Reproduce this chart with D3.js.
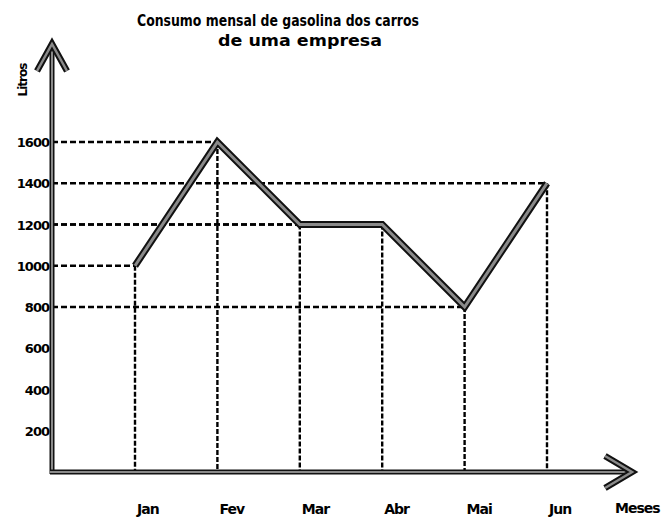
<!DOCTYPE html>
<html>
<head>
<meta charset="utf-8">
<script src="https://cdn.jsdelivr.net/npm/d3@7"></script>
<style>
  body { margin: 0; background: #fff; }
  text { font-family: "DejaVu Sans", sans-serif; font-weight: bold; fill: #000; }
</style>
</head>
<body>
<div id="chart"></div>
<script>
// chart data
const MONTHS = ["Jan", "Fev", "Mar", "Abr", "Mai", "Jun"];
const LITROS = [1000, 1600, 1200, 1200, 800, 1400];
const Y_TICKS = [200, 400, 600, 800, 1000, 1200, 1400, 1600];
const TITLE_LINES = ["Consumo  mensal de gasolina dos carros", "de uma empresa"];

const WIDTH = 665;
const HEIGHT = 521;
const AXIS_X = 52;       // where the vertical axis sits
const AXIS_TOP = 44;     // tip of the vertical arrow
const AXIS_RIGHT = 632;  // tip of the horizontal arrow

let data = MONTHS.map((m, i) => ({ month: m, value: LITROS[i] }));

let xScale = d3.scalePoint()
               .domain(MONTHS)
               .range([135, 547]);
let yScale = d3.scaleLinear()
               .domain([0, 1600])
               .range([472, 142]);

let svg = d3.select("#chart")
            .append("svg")
            .attr("width", WIDTH)
            .attr("height", HEIGHT);

// title
svg.selectAll(".title")
   .data(TITLE_LINES)
   .enter()
   .append("text")
   .attr("class", "title")
   .attr("x", (d, i) => i === 0 ? 137 : 218)
   .attr("y", (d, i) => i === 0 ? 26 : 46)
   .attr("textLength", (d, i) => i === 0 ? 282 : 164)
   .attr("lengthAdjust", "spacingAndGlyphs")
   .style("font-size", "15.5px")
   .text(d => d);

// dashed guide lines
const dashed = svg.append("g")
                  .attr("stroke", "#000")
                  .attr("stroke-width", 2.4)
                  .attr("fill", "none");

dashed.selectAll(".hguide")
      .data(data)
      .enter()
      .append("line")
      .attr("x1", AXIS_X)
      .attr("x2", d => xScale(d.month))
      .attr("y1", d => yScale(d.value))
      .attr("y2", d => yScale(d.value))
      .attr("stroke-dasharray", "6,3");

dashed.selectAll(".vguide")
      .data(data)
      .enter()
      .append("line")
      .attr("x1", d => xScale(d.month))
      .attr("x2", d => xScale(d.month))
      .attr("y1", d => yScale(d.value))
      .attr("y2", yScale(0))
      .attr("stroke-dasharray", "5,2");

// axes drawn as thick grey bars with black edges, arrows as chevrons
function heavyPath(g, pts, outer, inner) {
    let line = d3.line();
    g.append("path")
     .attr("d", line(pts))
     .attr("fill", "none")
     .attr("stroke", "#111")
     .attr("stroke-width", outer)
     .attr("stroke-linejoin", "miter")
     .attr("stroke-linecap", "butt");
    g.append("path")
     .attr("d", line(pts))
     .attr("fill", "none")
     .attr("stroke", "#8a8a8a")
     .attr("stroke-width", inner)
     .attr("stroke-linejoin", "miter")
     .attr("stroke-linecap", "butt");
}

const axes = svg.append("g");
heavyPath(axes, [[AXIS_X, yScale(0) + 2], [AXIS_X, AXIS_TOP + 3]], 5, 2);
heavyPath(axes, [[AXIS_X - 2, yScale(0)], [AXIS_RIGHT - 3, yScale(0)]], 5, 2);
heavyPath(axes, [[37, 71], [AXIS_X, AXIS_TOP], [67, 71]], 6.5, 2.5);
heavyPath(axes, [[605, yScale(0) - 16], [AXIS_RIGHT, yScale(0)], [605, yScale(0) + 16]], 6.5, 2.5);

// y tick labels
svg.selectAll(".ytick")
   .data(Y_TICKS)
   .enter()
   .append("text")
   .attr("class", "ytick")
   .attr("x", AXIS_X - 3)
   .attr("y", d => yScale(d) + 5)
   .attr("text-anchor", "end")
   .style("font-size", "13px")
   .style("letter-spacing", "-1px")
   .text(d => d);

// month labels
svg.selectAll(".xtick")
   .data(MONTHS)
   .enter()
   .append("text")
   .attr("class", "xtick")
   .attr("x", d => xScale(d) + 2)
   .attr("y", 514)
   .style("font-size", "14px")
   .style("letter-spacing", "-1px")
   .text(d => d);

// axis titles
svg.append("text")
   .attr("transform", "translate(27, 80) rotate(-90)")
   .attr("text-anchor", "middle")
   .style("font-size", "12px")
   .style("letter-spacing", "-1px")
   .text("Litros");

svg.append("text")
   .attr("x", 615)
   .attr("y", 513)
   .style("font-size", "14px")
   .style("letter-spacing", "-1px")
   .text("Meses");

// data line
const series = svg.append("g");
heavyPath(series, data.map(d => [xScale(d.month), yScale(d.value)]), 7, 3);
</script>
</body>
</html>
